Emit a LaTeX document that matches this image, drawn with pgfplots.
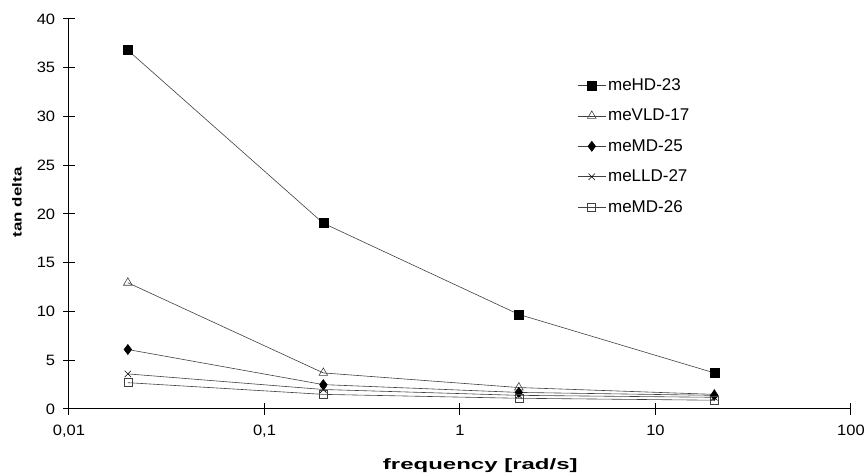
\documentclass[border=0pt]{standalone}
\usepackage{pgfplots}
\pgfplotsset{compat=1.18}
\usepackage{fontspec}
\setmainfont{Liberation Sans}
\newfontfamily\tickfont{Liberation Sans}[FakeStretch=1.1]
\newfontfamily\xlabfont{Liberation Sans}[FakeStretch=1.6]
\newfontfamily\ylabfont{Liberation Sans}[FakeStretch=1.3]
\begin{document}
\fontsize{14}{16}\selectfont
\begin{tikzpicture}
\useasboundingbox (-69pt,-67pt) rectangle (799pt,409pt);
\begin{axis}[
  at={(0,0)}, anchor=south west,
  scale only axis, width=782pt, height=390pt,
  xmode=log, xmin=0.01, xmax=100, ymin=0, ymax=40,
  axis x line*=bottom, axis y line*=left,
  axis line style={line width=1pt, black},
  xtick={0.01,0.1,1,10,100},
  xticklabels={{0,01},{0,1},1,10,100},
  ytick={0,5,...,40},
  minor tick num=0,
  every minor tick/.style={draw=none},
  tick align=center,
  major tick length=12pt,
  tick style={line width=1pt, black},
  /pgf/number format/assume math mode=true,
  tick label style={font=\tickfont\fontsize{15}{17}\selectfont},
  x tick label style={yshift=-5pt},
  y tick label style={xshift=-3pt},
  xlabel={\xlabfont\bfseries\fontsize{15}{17}\selectfont frequency [rad/s]},
  ylabel={\ylabfont\bfseries\fontsize{13}{15}\selectfont tan delta},
  every axis x label/.style={at={(axis description cs:0.526,-0.146)}, anchor=center},
  every axis y label/.style={at={(axis description cs:-0.0665,0.53)}, rotate=90, anchor=center},
  clip=false,
  legend style={draw=none, fill=none, at={(rel axis cs:0.65,0.853)}, anchor=north west,
    font=\fontsize{17}{19}\selectfont, row sep=12.5pt, inner sep=0pt},
  legend cell align=left,
  legend image code/.code={
    \draw[mark repeat=2, mark phase=2, #1] plot coordinates {(0pt,0pt) (14pt,0pt) (28pt,0pt)};
  },
  every axis plot/.append style={line width=0.6pt, black!75, mark options={black, solid}},
]
\addplot[mark=square*, mark size=4.5pt] coordinates {(0.02,36.8) (0.2,19.05) (2,9.7) (20,3.7)};
\addlegendentry{meHD-23}
\addplot[mark=triangle, mark size=5pt, mark options={fill=white}] coordinates {(0.02,12.95) (0.2,3.7) (2,2.2) (20,1.5)};
\addlegendentry{meVLD-17}
\addplot[mark=diamond*, mark size=5pt] coordinates {(0.02,6.1) (0.2,2.5) (2,1.7) (20,1.4)};
\addlegendentry{meMD-25}
\addplot[mark=x, mark size=4.5pt] coordinates {(0.02,3.6) (0.2,2.0) (2,1.4) (20,1.2)};
\addlegendentry{meLLD-27}
\addplot[mark=square, mark size=4pt, mark options={fill=white}] coordinates {(0.02,2.7) (0.2,1.5) (2,1.1) (20,0.9)};
\addlegendentry{meMD-26}
\end{axis}
\end{tikzpicture}
\end{document}
